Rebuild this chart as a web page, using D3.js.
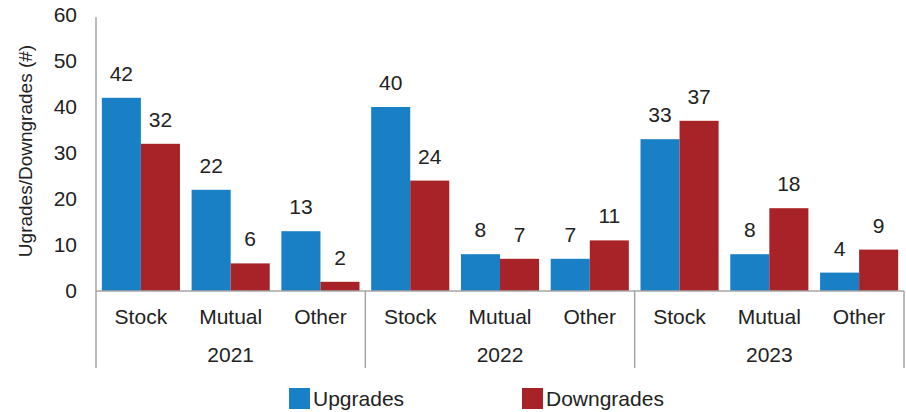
<!DOCTYPE html>
<html>
<head>
<meta charset="utf-8">
<script src="https://cdn.jsdelivr.net/npm/d3@7"></script>
<style>
  html, body { margin: 0; padding: 0; background: #fff; }
  svg { display: block; font-family: "Liberation Sans", Arial, sans-serif; }
</style>
</head>
<body>
<svg id="chart" width="906" height="412"></svg>
<script>
// Rating changes by year and fund type
const years = ["2021", "2022", "2023"];
const types = ["Stock", "Mutual", "Other"];
const seriesNames = ["Upgrades", "Downgrades"];
const upgrades   = [42, 22, 13, 40, 8, 7, 33, 8, 4];
const downgrades = [32, 6, 2, 24, 7, 11, 37, 18, 9];
const yTicks = [0, 10, 20, 30, 40, 50, 60];
const colors = ["#1a80c5", "#a82327"];

const svg = d3.select("#chart");
const plotLeft = 96, plotRight = 904, plotTop = 15, plotBottom = 291;
const fs = 21;

const y = d3.scaleLinear().domain([0, 60]).range([plotBottom, plotTop]);
const xYear = d3.scaleBand().domain(years).range([plotLeft, plotRight]).padding(0);
const xType = d3.scaleBand().domain(types).range([0, xYear.bandwidth()]).paddingInner(0.13).paddingOuter(0.065);
const xSeries = d3.scaleBand().domain(seriesNames).range([0, xType.bandwidth()]);

const rows = [];
years.forEach((yr, i) => types.forEach((t, j) => {
  const k = i * types.length + j;
  rows.push({ year: yr, type: t, values: [upgrades[k], downgrades[k]] });
}));

// Y axis
const yAxis = svg.append("g").attr("transform", `translate(${plotLeft},0)`)
  .call(d3.axisLeft(y).tickValues(yTicks).tickSize(0).tickPadding(19));
yAxis.select(".domain").attr("stroke", "#a6a6a6").attr("stroke-width", 1.5)
  .attr("d", `M0,${plotBottom}V${y(59.5)}`);
yAxis.selectAll("text").attr("font-size", fs).attr("fill", "#222")
  .attr("font-family", "Liberation Sans, Arial, sans-serif");

svg.append("text")
  .attr("transform", `translate(32,151) rotate(-90)`)
  .attr("text-anchor", "middle").attr("font-size", 19).attr("fill", "#222")
  .text("Ugrades/Downgrades (#)");

// Bars
const groups = svg.append("g").selectAll("g").data(rows).join("g")
  .attr("transform", d => `translate(${xYear(d.year) + xType(d.type)},0)`);

groups.selectAll("rect").data(d => d.values.map((v, s) => ({ v, s }))).join("rect")
  .attr("x", d => xSeries(seriesNames[d.s]))
  .attr("y", d => y(d.v))
  .attr("width", xSeries.bandwidth())
  .attr("height", d => y(0) - y(d.v))
  .attr("fill", d => colors[d.s]);

groups.selectAll("text.val").data(d => d.values.map((v, s) => ({ v, s }))).join("text")
  .attr("class", "val")
  .attr("x", d => xSeries(seriesNames[d.s]) + xSeries.bandwidth() / 2)
  .attr("y", d => y(d.v) - 17)
  .attr("text-anchor", "middle").attr("font-size", fs).attr("fill", "#222")
  .text(d => d.v);

// Category axis: baseline, separators, labels
const axisColor = "#a6a6a6";
svg.append("line").attr("x1", plotLeft).attr("x2", plotRight).attr("y1", plotBottom).attr("y2", plotBottom)
  .attr("stroke", axisColor).attr("stroke-width", 1.5);

const seps = years.map(yr => xYear(yr)).concat([xYear(years[years.length - 1]) + xYear.bandwidth()]);
svg.append("g").selectAll("line").data(seps).join("line")
  .attr("x1", d => d).attr("x2", d => d).attr("y1", plotBottom).attr("y2", 368)
  .attr("stroke", axisColor).attr("stroke-width", 1.5);

svg.append("g").selectAll("text").data(rows).join("text")
  .attr("x", d => xYear(d.year) + xType(d.type) + xType.bandwidth() / 2)
  .attr("y", 323.5)
  .attr("text-anchor", "middle").attr("font-size", fs).attr("fill", "#222")
  .text(d => d.type);

svg.append("g").selectAll("text").data(years).join("text")
  .attr("x", d => xYear(d) + xYear.bandwidth() / 2)
  .attr("y", 361.5)
  .attr("text-anchor", "middle").attr("font-size", fs).attr("fill", "#222")
  .text(d => d);

// Legend
const legendX = [289, 522];
const legend = svg.append("g").selectAll("g").data(seriesNames).join("g")
  .attr("transform", (d, i) => `translate(${legendX[i]},388)`);
legend.append("rect").attr("width", 21).attr("height", 21).attr("fill", (d, i) => colors[i]);
legend.append("text").attr("x", 24).attr("y", 18).attr("font-size", fs).attr("fill", "#222").text(d => d);
</script>
</body>
</html>
